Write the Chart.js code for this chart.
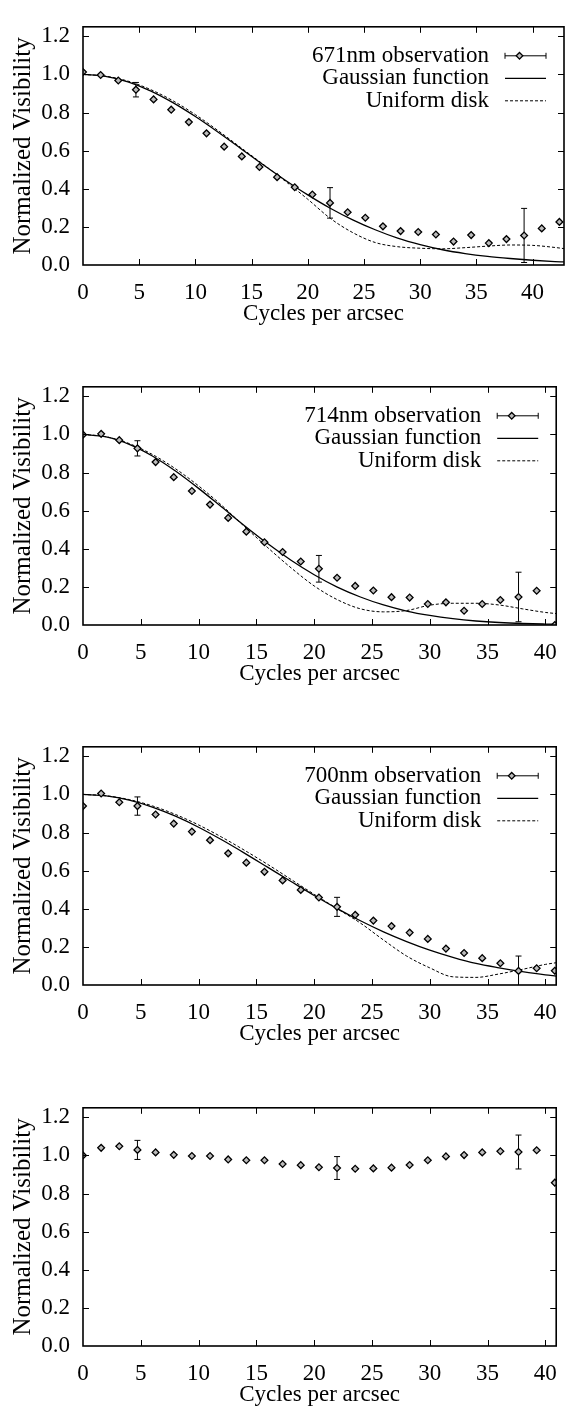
<!DOCTYPE html>
<html><head><meta charset="utf-8">
<script src="https://cdn.jsdelivr.net/npm/chart.js@4/dist/chart.umd.min.js"></script>
<style>
html,body{margin:0;padding:0;background:#fff;overflow:hidden;font-family:'Liberation Serif',serif;}
#wrap{position:relative;width:571px;height:1407px;overflow:hidden;background:#fff;}
canvas{position:absolute;left:0;}
</style></head><body><div id="wrap">
<canvas id="c1" width="571" height="360" style="top:0px"></canvas>
<canvas id="c2" width="571" height="360" style="top:360px"></canvas>
<canvas id="c3" width="571" height="360" style="top:720px"></canvas>
<canvas id="c4" width="571" height="360" style="top:1081px"></canvas>
</div>
<script>
// ---------- data ----------
const freq = [0, 1.57, 3.14, 4.71, 6.28, 7.85, 9.42, 10.99, 12.56, 14.13, 15.70, 17.27, 18.84, 20.41,
              21.98, 23.55, 25.12, 26.69, 28.26, 29.83, 31.40, 32.97, 34.54, 36.11, 37.68, 39.25, 40.82, 42.39];
const xTicks = [0, 5, 10, 15, 20, 25, 30, 35, 40];
const yTicks = [0, 0.2, 0.4, 0.6, 0.8, 1.0, 1.2];

const vis671 = [1.013, 0.997, 0.968, 0.920, 0.869, 0.815, 0.750, 0.691, 0.621, 0.570, 0.514, 0.461, 0.408, 0.370,
                0.326, 0.277, 0.248, 0.203, 0.178, 0.173, 0.160, 0.123, 0.157, 0.115, 0.136, 0.155, 0.192, 0.226];
const err671 = [[3, 0.038], [14, 0.080], [25, 0.142]];
const vis714 = [0.999, 1.003, 0.970, 0.927, 0.855, 0.776, 0.703, 0.632, 0.562, 0.490, 0.434, 0.383, 0.333, 0.295,
                0.248, 0.205, 0.181, 0.146, 0.144, 0.110, 0.119, 0.075, 0.110, 0.131, 0.147, 0.180, 0.000];
const err714 = [[3, 0.040], [13, 0.070], [24, 0.130]];
const vis700 = [0.939, 1.005, 0.959, 0.939, 0.895, 0.847, 0.805, 0.760, 0.691, 0.642, 0.594, 0.549, 0.499, 0.459,
                0.410, 0.368, 0.338, 0.309, 0.275, 0.242, 0.191, 0.168, 0.141, 0.114, 0.074, 0.088, 0.075];
const err700 = [[3, 0.048], [14, 0.050], [24, 0.078]];
const visRef = [1.000, 1.040, 1.048, 1.029, 1.016, 1.003, 0.997, 0.997, 0.979, 0.975, 0.975, 0.955, 0.949, 0.938,
                0.934, 0.930, 0.932, 0.936, 0.950, 0.975, 0.995, 1.002, 1.016, 1.022, 1.018, 1.027, 0.857];
const errRef = [[3, 0.050], [14, 0.060], [24, 0.089]];

const curveX671 = [0, 2, 4, 6, 8, 10, 12, 14, 16, 18, 20, 22, 24, 26, 28, 30, 32, 34, 36, 38, 40, 42, 42.8];
const gauss671 = [1.000, 0.990, 0.961, 0.914, 0.852, 0.779, 0.698, 0.613, 0.527, 0.445, 0.368, 0.298, 0.237, 0.185,
                  0.141, 0.107, 0.080, 0.060, 0.045, 0.034, 0.025, 0.018, 0.016];
const disk671  = [1.000, 0.991, 0.965, 0.921, 0.862, 0.789, 0.706, 0.618, 0.530, 0.440, 0.345, 0.245, 0.170, 0.118,
                  0.096, 0.088, 0.085, 0.091, 0.099, 0.105, 0.103, 0.092, 0.086];
const curveX = [0, 2, 4, 6, 8, 10, 12, 14, 16, 18, 20, 22, 24, 26, 28, 30, 32, 34, 36, 38, 40, 40.94];
const gauss714 = [1.000, 0.987, 0.948, 0.887, 0.808, 0.717, 0.619, 0.520, 0.426, 0.340, 0.264, 0.199, 0.147, 0.105,
                  0.073, 0.050, 0.033, 0.021, 0.013, 0.008, 0.005, 0.004];
const disk714  = [1.000, 0.988, 0.952, 0.895, 0.820, 0.730, 0.628, 0.515, 0.405, 0.300, 0.205, 0.133, 0.085, 0.069,
                  0.076, 0.104, 0.114, 0.114, 0.105, 0.085, 0.066, 0.060];
const gauss700 = [1.000, 0.992, 0.970, 0.934, 0.886, 0.828, 0.762, 0.691, 0.617, 0.543, 0.470, 0.401, 0.337, 0.279,
                  0.228, 0.183, 0.145, 0.113, 0.090, 0.070, 0.053, 0.047];
const disk700  = [1.000, 0.993, 0.973, 0.940, 0.895, 0.840, 0.776, 0.706, 0.632, 0.554, 0.476, 0.400, 0.325, 0.236,
                  0.152, 0.090, 0.043, 0.040, 0.058, 0.082, 0.108, 0.117];

const legendLabels = ['Gaussian function', 'Uniform disk'];

// ---------- drawing ----------
const FONT = 'Liberation Serif';
Chart.defaults.font.family = FONT;
Chart.defaults.font.size = 23;
Chart.defaults.color = '#000';

function drawDiamond(ctx, x, y, r) {
  ctx.beginPath();
  ctx.moveTo(x, y - r); ctx.lineTo(x + r, y); ctx.lineTo(x, y + r); ctx.lineTo(x - r, y); ctx.closePath();
  ctx.fillStyle = '#bbb'; ctx.fill();
  ctx.lineWidth = 1.3; ctx.strokeStyle = '#000'; ctx.stroke();
}

const deco = {
  id: 'deco',
  beforeDatasetsDraw(chart) {
    const o = chart.options.plugins.deco;
    const {ctx, chartArea: a, scales: {x, y}} = chart;
    ctx.save();
    ctx.beginPath(); ctx.rect(a.left - 2, a.top, a.right - a.left + 4, a.bottom - a.top); ctx.clip();
    ctx.strokeStyle = '#000'; ctx.lineWidth = 1;
    o.err.forEach(([i, e]) => {
      const px = x.getPixelForValue(o.xs[i]);
      const p1 = y.getPixelForValue(o.ys[i] + e);
      const p2 = y.getPixelForValue(o.ys[i] - e);
      ctx.beginPath();
      ctx.moveTo(px, p1); ctx.lineTo(px, p2);
      ctx.moveTo(px - 3, p1); ctx.lineTo(px + 3, p1);
      ctx.moveTo(px - 3, p2); ctx.lineTo(px + 3, p2);
      ctx.stroke();
    });
    ctx.restore();
  },
  afterDraw(chart) {
    const o = chart.options.plugins.deco;
    const {ctx, chartArea: a, scales: {x, y}} = chart;
    ctx.save();
    ctx.strokeStyle = '#000'; ctx.lineWidth = 1;
    ctx.beginPath();
    x.ticks.forEach(t => {
      const px = Math.round(x.getPixelForValue(t.value)) + 0.5;
      if (px < a.left + 2 || px > a.right - 2) return;
      ctx.moveTo(px, a.bottom); ctx.lineTo(px, a.bottom - 6);
      ctx.moveTo(px, a.top); ctx.lineTo(px, a.top + 6);
    });
    y.ticks.forEach(t => {
      const py = Math.round(y.getPixelForValue(t.value)) + 0.5;
      if (py < a.top + 2 || py > a.bottom - 2) return;
      ctx.moveTo(a.left, py); ctx.lineTo(a.left + 6, py);
      ctx.moveTo(a.right, py); ctx.lineTo(a.right - 6, py);
    });
    ctx.stroke();
    ctx.lineWidth = 1.6;
    ctx.strokeRect(a.left, a.top, a.right - a.left, a.bottom - a.top);

    if (o.legend) {
      ctx.font = '23px "Liberation Serif"';
      ctx.fillStyle = '#000';
      ctx.textAlign = 'right'; ctx.textBaseline = 'middle';
      const tx = a.right - 75, l0 = a.right - 59, l1 = a.right - 18;
      const rows = [a.top + 29, a.top + 51.5, a.top + 74];
      const labels = [o.legend].concat(legendLabels);
      labels.forEach((s, i) => ctx.fillText(s, tx, rows[i]));
      ctx.lineWidth = 1;
      ctx.beginPath();
      ctx.moveTo(l0, rows[0]); ctx.lineTo(l1, rows[0]);
      ctx.moveTo(l0, rows[0] - 3); ctx.lineTo(l0, rows[0] + 3);
      ctx.moveTo(l1, rows[0] - 3); ctx.lineTo(l1, rows[0] + 3);
      ctx.stroke();
      drawDiamond(ctx, (l0 + l1) / 2 - 6, rows[0], 3.3);
      ctx.lineWidth = 1.3; ctx.setLineDash([]);
      ctx.beginPath(); ctx.moveTo(l0, rows[1]); ctx.lineTo(l1, rows[1]); ctx.stroke();
      ctx.lineWidth = 1; ctx.setLineDash([3, 2]);
      ctx.beginPath(); ctx.moveTo(l0, rows[2]); ctx.lineTo(l1, rows[2]); ctx.stroke();
      ctx.setLineDash([]);
    }
    ctx.restore();
  }
};

function pts(xs, ys) { return ys.map((v, i) => ({x: xs[i], y: v})); }

function makePanel(id, xMax, vis, err, gauss, disk, cx, legend) {
  const datasets = [{
    data: pts(freq, vis),
    showLine: false,
    pointStyle: 'rectRot', pointRadius: 3.4,
    pointBackgroundColor: '#bbb', pointBorderColor: '#000', pointBorderWidth: 1.3
  }];
  if (gauss) {
    datasets.push({data: pts(cx, gauss), showLine: true, pointRadius: 0, borderColor: '#000',
                   borderWidth: 1.3, cubicInterpolationMode: 'monotone', clip: 0});
    datasets.push({data: pts(cx, disk), showLine: true, pointRadius: 0, borderColor: '#000',
                   borderWidth: 1, borderDash: [3, 2], cubicInterpolationMode: 'monotone', clip: 0});
  }
  const tickFont = {family: FONT, size: 23, style: 'normal', weight: 'normal'};
  new Chart(document.getElementById(id), {
    type: 'scatter',
    data: {datasets},
    plugins: [deco],
    options: {
      responsive: false, animation: false, events: [],
      font: {family: FONT, size: 23},
      layout: {padding: {left: 0, right: 7, top: 5, bottom: 0}},
      plugins: {
        legend: {display: false}, tooltip: {enabled: false},
        deco: {xs: freq, ys: vis, err: err, legend: legend}
      },
      scales: {
        x: {
          type: 'linear', min: 0, max: xMax,
          afterFit: s => { s.height = 95; },
          afterBuildTicks: s => { s.ticks = xTicks.map(v => ({value: v})); },
          grid: {display: false, drawTicks: false}, border: {display: false},
          ticks: {font: tickFont, padding: 14, maxRotation: 0, autoSkip: false,
                  callback: v => String(v)},
          title: {display: true, text: 'Cycles per arcsec', font: {family: FONT, size: 23},
                  padding: {top: 0, bottom: 32}}
        },
        y: {
          type: 'linear', min: 0, max: 1.25,
          afterFit: s => { s.width = 83; },
          afterBuildTicks: s => { s.ticks = yTicks.map(v => ({value: v})); },
          grid: {display: false, drawTicks: false}, border: {display: false},
          ticks: {font: tickFont, padding: 13, autoSkip: false,
                  callback: v => Number(v).toFixed(1)},
          title: {display: true, text: 'Normalized Visibility', font: {family: FONT, size: 25},
                  padding: {top: 8, bottom: 0}}
        }
      }
    }
  });
}

makePanel('c1', 42.8, vis671, err671, gauss671, disk671, curveX671, '671nm observation');
makePanel('c2', 40.94, vis714, err714, gauss714, disk714, curveX, '714nm observation');
makePanel('c3', 40.94, vis700, err700, gauss700, disk700, curveX, '700nm observation');
makePanel('c4', 40.94, visRef, errRef, null, null, null, null);
</script></body></html>
